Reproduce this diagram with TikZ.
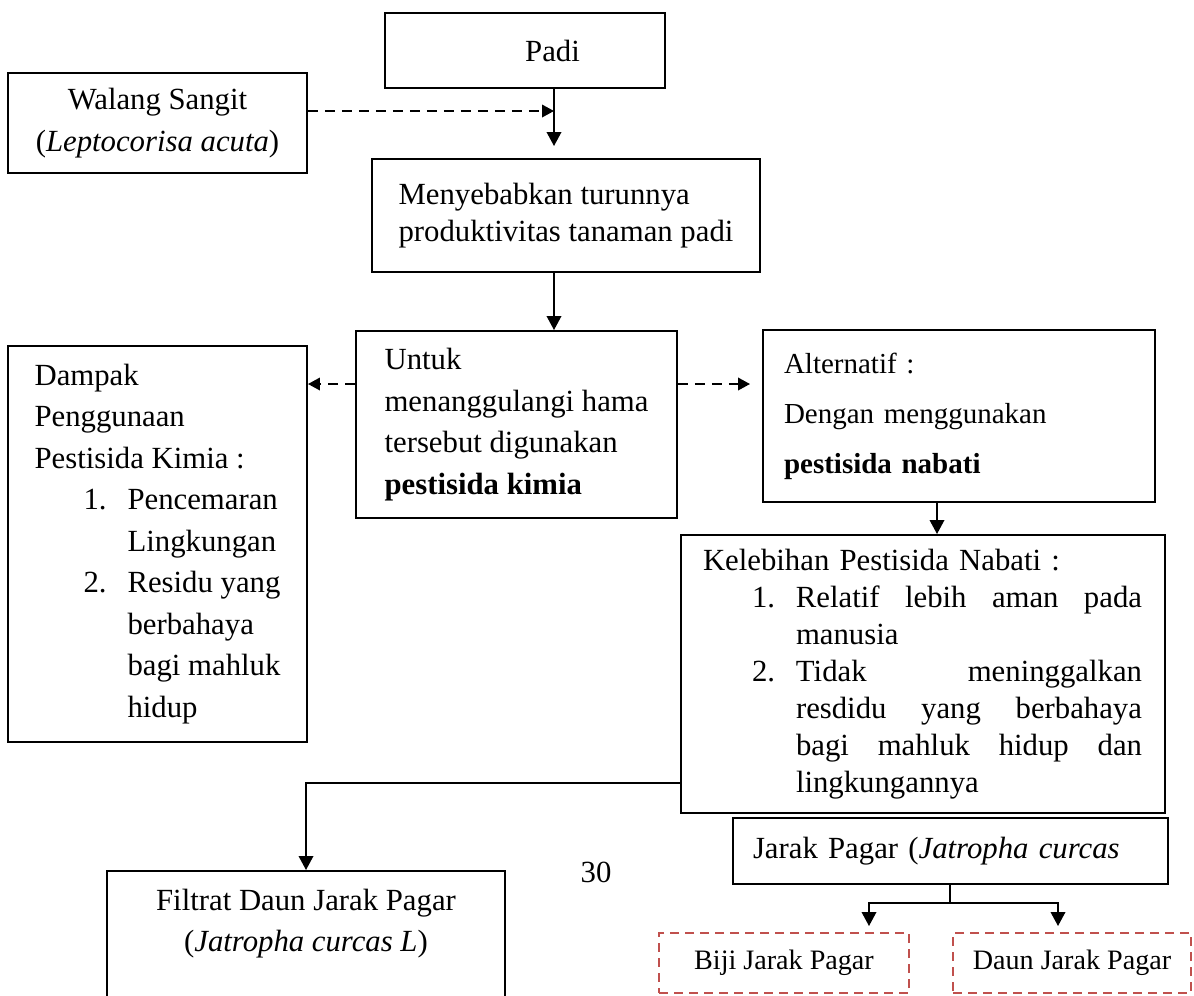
\documentclass[tikz,border=0pt]{standalone}
\usepackage{fontspec}
\setmainfont{Liberation Serif}
\usetikzlibrary{arrows.meta,calc}
\definecolor{seedred}{HTML}{C0504D}
\newcommand{\litem}[2]{\hspace*{9.8mm}\makebox[8.8mm][l]{#1}#2}
\newcommand{\lcont}[1]{\hspace*{18.6mm}#1}
\newcommand{\jline}[1]{\makebox[69.2mm][l]{#1}}

\begin{document}
\begin{tikzpicture}[x=.2mm,y=-.2mm,>={Triangle[length=2.8mm,width=2.9mm]},
  font=\fontsize{17.5}{23.6}\selectfont,
  b/.style={draw,line width=1.1pt,inner sep=0pt,align=left},
  rb/.style={draw=seedred,line width=1.1pt,dash pattern=on 1.8mm off 1.2mm,
             inner sep=0pt,font=\fontsize{16}{19}\selectfont},
  a/.style={->,line width=1.1pt},
  da/.style={-{Triangle[length=2.4mm,width=2.5mm]},line width=1.1pt,dash pattern=on 2mm off 1.4mm}]
\useasboundingbox (0,0) rectangle (1194,995);
\clip (0,0) rectangle (1194,995);
\node[b,minimum width=56mm,minimum height=15mm,align=center] (padi) at (525,50.5) {\hspace*{11mm}Padi};
\node[b,minimum width=59.8mm,minimum height=20mm,align=center] (walang) at (157.5,123)
  {Walang Sangit\\(\textit{Leptocorisa acuta})};
\node[b,minimum width=77.6mm,minimum height=22.6mm,font=\fontsize{17.5}{21.5}\selectfont] (sebab) at (566,215.5)
  {Menyebabkan turunnya\\produktivitas tanaman padi};
\node[b,minimum width=64.2mm,minimum height=37.4mm] (untuk) at (516.5,424.5)
  {Untuk\\menanggulangi hama\\tersebut digunakan\\\textbf{pestisida kimia}};
\node[b,minimum width=59.8mm,minimum height=79.2mm] (dampak) at (157.5,544)
  {Dampak\\Penggunaan\\Pestisida Kimia :\\\litem{1.}{Pencemaran}\\\lcont{Lingkungan}\\
   \litem{2.}{Residu yang}\\\lcont{berbahaya}\\\lcont{bagi mahluk}\\\lcont{hidup}};
\node[b,minimum width=78.4mm,minimum height=34.4mm,text width=70mm,inner xsep=4.2mm,
  font=\fontsize{16.5}{28.5}\selectfont] (alt) at (959,416)
  {Alternatif :\\Dengan menggunakan\\\textbf{pestisida nabati}};
\node[b,minimum width=96.8mm,minimum height=55.6mm,text width=88mm,
  font=\fontsize{17.5}{21}\selectfont] (kel) at (923,674)
  {Kelebihan Pestisida Nabati :\\
   \litem{1.}{\jline{Relatif\hfill lebih\hfill aman\hfill pada}}\\\lcont{manusia}\\
   \litem{2.}{\jline{Tidak\hfill meninggalkan}}\\\lcont{\jline{resdidu\hfill yang\hfill berbahaya}}\\
   \lcont{\jline{bagi\hfill mahluk\hfill hidup\hfill dan}}\\\lcont{lingkungannya}};
\node[b,minimum width=87mm,minimum height=13.2mm,text width=79mm,inner xsep=4mm] (jarak) at (950.5,851)
  {Jarak Pagar (\textit{Jatropha curcas}};
\node[rb,minimum width=50mm,minimum height=12mm] (biji) at (784,963) {Biji Jarak Pagar};
\node[rb,minimum width=47.6mm,minimum height=12mm] (daun) at (1072,963) {Daun Jarak Pagar};
\node[b,anchor=north,minimum width=79.6mm,align=center,inner ysep=3.6mm] (filtrat) at (306,870)
  {Filtrat Daun Jarak Pagar\\(\textit{Jatropha curcas L})\\[15mm]\mbox{}};
\node (hal) at (596,872) {30};
\coordinate (j1) at (554,111);
\coordinate (j2) at (0,384);
\coordinate (j3) at (937,0);
\coordinate (br) at (950,903);
\coordinate (bl) at (869,903);
\coordinate (bm) at (1058,903);
\draw[da] (walang.east |- j1) -- (j1);
\draw[a,shorten >=2.4mm] (padi.south -| j1) -- (sebab.north -| j1);
\draw[a] (sebab.south -| j1) -- (untuk.north -| j1);
\draw[da] (untuk.west |- j2) -- (dampak.east |- j2);
\draw[da,shorten >=2.4mm] (untuk.east |- j2) -- (alt.west |- j2);
\draw[a] (alt.south -| j3) -- (kel.north -| j3);
\draw[a] ($(kel.south west)!.11!(kel.north west)$) -| (filtrat.north);
\draw[line width=1.1pt] (jarak.south -| br) -- (br);
\foreach \c/\b in {bl/biji,bm/daun} \draw[a,shorten >=1.2mm] (br) -| (\c |- \b.north);
\end{tikzpicture}
\end{document}
